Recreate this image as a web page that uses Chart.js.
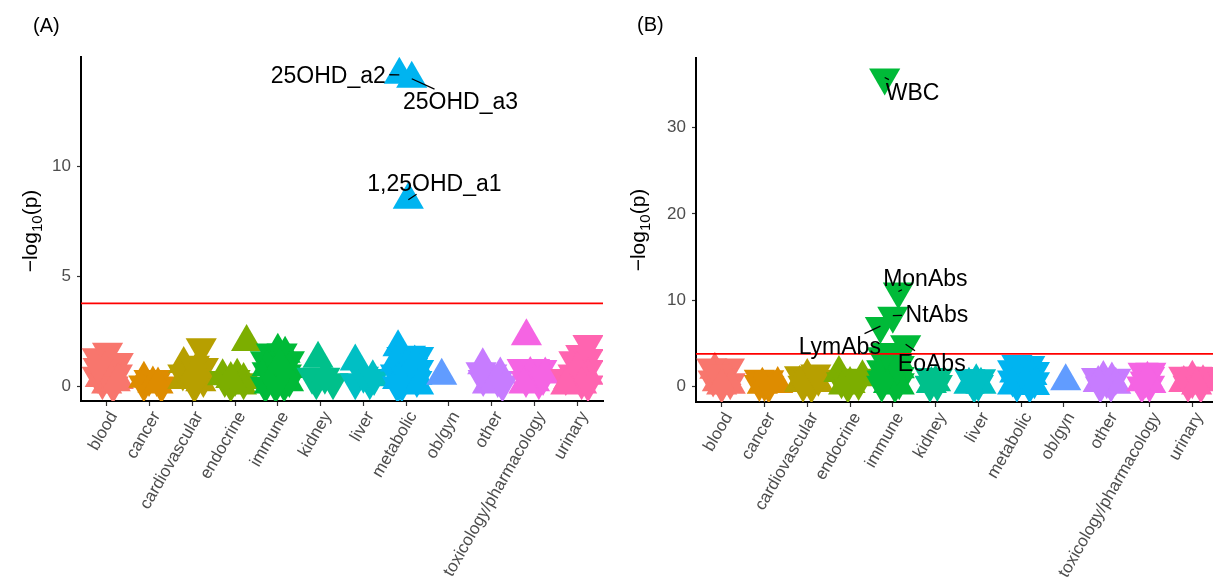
<!DOCTYPE html>
<html><head><meta charset="utf-8">
<script src="https://cdn.jsdelivr.net/npm/chart.js@4.4.1/dist/chart.umd.min.js"></script>
<style>
html,body{margin:0;padding:0;background:#fff;overflow:hidden;}
#wrap{position:relative;width:1213px;height:581px;overflow:hidden;background:#fff;}
canvas{position:absolute;top:0;}
</style></head><body>
<div id="wrap">
<canvas id="cA" width="606" height="581" style="left:0px"></canvas>
<canvas id="cB" width="613" height="581" style="left:606px"></canvas>
</div>
<script>
// ---------- DATA ----------
const categories = ['blood','cancer','cardiovascular','endocrine','immune','kidney','liver','metabolic','ob/gyn','other','toxicology/pharmacology','urinary'];
const A_yTicks = [0, 5, 10];
const B_yTicks = [0, 10, 20, 30];
const A_threshold = 3.79;
const B_threshold = 3.77;

// each point: [position within category, -log10(p), effect direction (+1 up / -1 down), optional name]
const A_blood = [[-0.22,1.34,-1],[0.02,1.59,-1],[0.27,1.12,-1],[-0.22,0.5,-1],[-0.1,0.2,-1],[0.0,0.1,1],[0.1,0.3,-1],[0.25,0.6,-1],[-0.15,0.4,1],[0.2,0.2,1],[0.05,0.9,-1],[-0.05,0.8,1],[0.15,0.05,-1],[-0.2,0.9,-1],[0.27,0.3,1]];
const A_cancer = [[-0.13,0.36,1],[-0.01,0.35,-1],[0.17,0.35,-1],[-0.13,0.1,-1],[0.28,0.05,-1],[0.08,0.15,1],[0.2,0.1,1]];
const A_cardiovascular = [[-0.2,1.03,1],[0.21,1.79,-1],[0.26,0.9,-1],[0.26,0.3,-1],[-0.22,0.3,1],[-0.22,0.6,-1],[0.0,0.5,1],[0.05,1.0,-1],[0.15,0.6,-1],[0.2,0.2,1],[0.05,0.05,-1],[0.1,0.8,1]];
const A_endocrine = [[0.27,2.03,1],[-0.29,0.47,1],[0.05,0.5,1],[-0.24,0.3,-1],[0.0,0.35,-1],[0.2,0.2,-1],[0.2,0.3,1],[-0.1,0.1,-1],[0.15,0.05,1],[-0.1,0.35,1]];
const A_immune = [[0.0,1.64,1],[0.17,1.5,1],[-0.15,1.55,-1],[0.1,1.55,-1],[-0.29,1.2,-1],[0.27,1.2,-1],[-0.25,0.9,1],[0.27,0.8,1],[-0.25,0.7,-1],[0.2,0.6,-1],[-0.1,0.6,1],[0.1,0.3,1],[0.0,0.9,-1],[-0.1,0.3,-1],[0.15,0.1,-1],[-0.2,0.1,1],[0.25,0.2,1],[-0.29,0.05,-1],[0.27,0.3,-1],[0.05,1.0,1],[-0.05,0.05,-1]];
const A_kidney = [[-0.06,1.27,1],[-0.1,0.2,-1],[0.29,0.2,-1],[0.1,0.45,-1],[-0.2,0.45,-1],[0.12,0.5,1]];
const A_liver = [[-0.19,1.15,1],[0.22,0.43,1],[-0.19,0.2,-1],[0.15,0.2,-1],[0.0,0.5,-1],[0.25,0.4,-1]];
const A_metabolic = [[-0.19,1.79,1],[-0.1,1.4,-1],[0.1,1.45,-1],[0.29,1.4,-1],[0.29,0.8,-1],[0.25,0.3,-1],[0.25,0.5,1],[-0.25,1.1,1],[-0.25,0.6,-1],[-0.2,0.3,1],[-0.1,0.1,-1],[0.0,0.9,1],[0.0,0.5,-1],[0.1,0.2,1],[0.15,0.9,-1],[0.2,1.1,1],[-0.2,0.05,-1],[0.29,0.05,1],[-0.16,14.18,1,'25OHD_a2'],[0.13,14.0,1,'25OHD_a3'],[0.05,8.5,1,'1,25OHD_a1']];
const A_obgyn = [[-0.17,0.5,1]];
const A_other = [[-0.21,0.97,1],[0.2,0.55,1],[0.14,0.3,-1],[-0.2,0.35,-1],[0.0,0.3,1],[0.0,0.6,-1],[-0.1,0.1,1],[0.25,0.1,-1],[-0.25,0.7,-1]];
const A_toxicology = [[-0.19,2.29,1],[-0.29,0.85,-1],[0.0,0.85,-1],[0.17,0.8,-1],[-0.1,0.58,1],[0.25,0.55,1],[-0.2,0.3,-1],[0.1,0.2,-1],[0.0,0.2,1],[0.2,0.4,-1],[-0.25,0.1,1]];
const A_urinary = [[0.25,1.94,-1],[0.08,1.49,-1],[-0.08,1.2,-1],[0.25,1.3,-1],[0.25,0.8,-1],[0.25,0.5,1],[-0.27,0.4,-1],[-0.2,0.3,1],[-0.1,0.6,-1],[0.1,0.2,-1],[0.0,0.8,1],[0.1,0.1,1],[0.25,0.1,-1],[-0.27,0.05,1]];

const B_blood = [[-0.16,1.95,1],[-0.23,2.2,-1],[0.18,2.2,-1],[0.0,1.0,-1],[0.1,1.2,1],[-0.2,0.8,-1],[0.2,0.5,-1],[-0.1,0.5,1],[0.0,0.1,-1],[0.2,0.2,1],[-0.1,1.5,-1],[0.0,0.1,1]];
const B_cancer = [[-0.12,0.9,-1],[0.1,0.85,-1],[0.31,0.3,1],[0.0,0.3,-1],[-0.12,0.3,-1],[-0.05,0.2,1],[0.1,0.1,-1]];
const B_cardiovascular = [[0.0,1.2,1],[-0.18,1.3,-1],[0.2,1.5,-1],[0.05,0.8,-1],[-0.18,0.4,1],[0.26,0.4,1],[-0.1,0.2,-1],[0.1,0.1,-1],[0.26,0.9,-1]];
const B_endocrine = [[-0.26,1.56,1],[0.29,1.07,1],[0.0,0.9,-1],[-0.2,0.6,-1],[0.2,0.4,-1],[0.0,0.3,1],[-0.05,0.1,-1],[-0.15,0.1,1],[0.15,1.0,-1]];
const B_immune = [[-0.19,35.8,-1,'WBC'],[0.13,11.0,-1,'MonAbs'],[0.0,8.2,-1,'NtAbs'],[-0.29,7.0,-1,'LymAbs'],[0.3,4.9,-1,'EoAbs'],[-0.25,3.5,-1],[0.1,3.8,-1],[0.0,3.0,-1],[0.15,2.5,-1],[-0.26,2.0,-1],[-0.2,2.5,1],[0.15,2.0,1],[-0.1,1.5,-1],[0.15,1.2,-1],[0.0,1.0,1],[-0.25,0.8,-1],[0.15,0.5,-1],[-0.1,0.3,1],[0.05,0.1,-1],[0.15,0.1,1],[-0.26,0.2,-1],[0.1,2.2,-1],[0.1,3.2,1],[-0.15,4.0,-1]];
const B_kidney = [[-0.13,1.1,-1],[0.04,1.0,-1],[0.0,0.5,1],[-0.1,0.3,1],[0.04,0.3,-1],[-0.13,0.2,-1]];
const B_liver = [[-0.2,0.95,-1],[0.05,0.95,-1],[-0.05,0.6,1],[0.0,0.3,-1],[-0.22,0.2,1],[0.06,0.2,1],[-0.1,0.1,-1]];
const B_metabolic = [[-0.1,2.6,-1],[0.2,2.5,-1],[0.05,1.6,1],[-0.2,2.0,-1],[0.31,1.8,-1],[-0.15,1.5,1],[0.25,1.2,1],[0.0,1.3,-1],[-0.2,0.8,-1],[0.31,0.6,-1],[0.1,0.5,1],[-0.1,0.2,-1],[-0.2,0.1,1],[0.2,0.1,-1],[0.31,0.05,1]];
const B_obgyn = [[0.04,0.6,1]];
const B_other = [[-0.08,0.98,1],[-0.24,1.1,-1],[0.21,1.0,-1],[0.12,0.8,1],[0.0,0.6,-1],[-0.2,0.4,1],[0.1,0.2,-1],[0.21,0.2,1],[-0.15,0.1,-1]];
const B_toxicology = [[-0.15,1.7,-1],[0.03,1.7,-1],[0.0,1.2,-1],[-0.18,0.5,1],[-0.1,0.7,-1],[0.03,0.3,1],[0.0,0.2,-1],[-0.05,0.9,1],[-0.18,0.1,-1]];
const B_urinary = [[-0.2,1.25,-1],[0.1,1.25,-1],[0.3,1.2,-1],[0.0,1.0,1],[0.0,0.6,-1],[-0.2,0.4,1],[0.25,0.5,1],[-0.1,0.2,-1],[0.2,0.1,-1],[0.1,0.1,1]];

// text labels (name, label position in data units)
const A_labelNames = ['25OHD_a2','25OHD_a3','1,25OHD_a1'];
const A_labelX = [6.18, 9.27, 8.66];
const A_labelY = [14.2, 13.0, 9.28];
const B_labelNames = ['WBC','MonAbs','NtAbs','LymAbs','EoAbs'];
const B_labelX = [5.46, 5.76, 6.03, 3.76, 5.91];
const B_labelY = [34.2, 12.57, 8.4, 4.77, 2.78];

// ---------- STYLE ----------
const palette = ['#F8766D','#DE8C00','#B79F00','#7CAE00','#00BA38','#00C08B','#00BFC4','#00B4F0','#619CFF','#C77CFF','#F564E3','#FF64B0'];
const FONT = '"Liberation Sans", Arial, Helvetica, sans-serif';
Chart.defaults.font.family = FONT;

const A_points = [A_blood,A_cancer,A_cardiovascular,A_endocrine,A_immune,A_kidney,A_liver,A_metabolic,A_obgyn,A_other,A_toxicology,A_urinary];
const B_points = [B_blood,B_cancer,B_cardiovascular,B_endocrine,B_immune,B_kidney,B_liver,B_metabolic,B_obgyn,B_other,B_toxicology,B_urinary];

const overlay = {
  id: 'overlay',
  afterDatasetsDraw(chart, args, o) {
    const {ctx, chartArea: a, scales: {x, y}} = chart;
    ctx.save();
    ctx.beginPath(); ctx.rect(a.left, a.top, a.right - a.left, a.bottom - a.top); ctx.clip();
    const ty = y.getPixelForValue(o.threshold);
    ctx.strokeStyle = '#FF0000'; ctx.lineWidth = 1.8;
    ctx.beginPath(); ctx.moveTo(a.left, ty); ctx.lineTo(a.right, ty); ctx.stroke();
    ctx.restore();

    ctx.save();
    const fs = 23, cap = fs * 0.716, pad = 3.5;
    ctx.font = fs + 'px ' + FONT;
    ctx.fillStyle = '#000'; ctx.strokeStyle = '#000'; ctx.lineWidth = 1.3;
    ctx.textAlign = 'center'; ctx.textBaseline = 'alphabetic';
    o.labelNames.forEach((name, k) => {
      let pt = null;
      chart.data.datasets.forEach(ds => ds.data.forEach(d => { if (d.name === name) pt = d; }));
      if (!pt) return;
      const px = x.getPixelForValue(pt.x), py = y.getPixelForValue(pt.y);
      const lx = x.getPixelForValue(o.labelX[k]), ly = y.getPixelForValue(o.labelY[k]);
      const w = ctx.measureText(name).width;
      const bx0 = lx - w/2 - pad, bx1 = lx + w/2 + pad, by0 = ly - cap/2 - pad, by1 = ly + cap/2 + pad;
      const inside = px >= bx0 && px <= bx1 && py >= by0 && py <= by1;
      if (!inside) {
        const dx = lx - px, dy = ly - py, ts = [];
        if (dx !== 0) [bx0, bx1].forEach(bx => { const t = (bx - px)/dx, yy = py + t*dy; if (t > 0 && t <= 1 && yy >= by0 && yy <= by1) ts.push(t); });
        if (dy !== 0) [by0, by1].forEach(by => { const t = (by - py)/dy, xx = px + t*dx; if (t > 0 && t <= 1 && xx >= bx0 && xx <= bx1) ts.push(t); });
        if (ts.length) {
          const t = Math.min(...ts), ex = px + t*dx, ey = py + t*dy;
          if (Math.hypot(ex - px, ey - py) > 3) {
            ctx.beginPath(); ctx.moveTo(px, py); ctx.lineTo(ex, ey); ctx.stroke();
          }
        }
      }
      ctx.fillText(name, lx, ly + cap/2);
    });
    ctx.restore();
  },
  afterDraw(chart, args, o) {
    const ctx = chart.ctx;
    ctx.save();
    ctx.fillStyle = '#000';
    ctx.font = '20px ' + FONT; ctx.textAlign = 'left'; ctx.textBaseline = 'alphabetic';
    ctx.fillText(o.tag, o.tagX, o.tagY);
    ctx.translate(o.titleX, o.titleY); ctx.rotate(-Math.PI/2);
    const f1 = '21px ' + FONT, f2 = '15px ' + FONT;
    ctx.font = f1; const wa = ctx.measureText('\u2212log').width, wc = ctx.measureText('(p)').width;
    ctx.font = f2; const wb = ctx.measureText('10').width;
    let sx = -(wa + wb + wc) / 2;
    ctx.font = f1; ctx.fillText('\u2212log', sx, 0); sx += wa;
    ctx.font = f2; ctx.fillText('10', sx, 5); sx += wb;
    ctx.font = f1; ctx.fillText('(p)', sx, 0);
    ctx.restore();
  }
};

function buildPanel(id, pts, yMin, yMax, yTicks, threshold, names, lxs, lys, L) {
  const datasets = categories.map((c, i) => ({
    label: c,
    data: pts[i].map(p => ({x: i + 1 + p[0], y: p[1], dir: p[2], name: p[3]})),
    pointStyle: 'triangle',
    pointRadius: 18,
    pointHoverRadius: 18,
    pointBorderWidth: 0,
    pointBackgroundColor: palette[i],
    pointBorderColor: palette[i],
    pointRotation: ctx => (ctx.raw && ctx.raw.dir < 0) ? 180 : 0,
    showLine: false,
    order: -i
  }));
  return new Chart(document.getElementById(id), {
    type: 'scatter',
    data: {datasets},
    plugins: [overlay],
    options: {
      responsive: false, animation: false, events: [],
      layout: {autoPadding: false, padding: {top: L.top, right: L.right, left: 0, bottom: 0}},
      plugins: {
        legend: {display: false}, tooltip: {enabled: false},
        overlay: {threshold, labelNames: names, labelX: lxs, labelY: lys, tag: L.tag, tagX: L.tagX, tagY: L.tagY, titleX: L.titleX, titleY: L.titleY}
      },
      scales: {
        x: {
          type: 'linear', min: 0.4, max: 12.6,
          afterBuildTicks: s => { s.ticks = categories.map((c, i) => ({value: i + 1})); },
          ticks: {color: '#4D4D4D', font: {size: 17}, padding: 2, labelOffset: 7, autoSkip: false, minRotation: 60, maxRotation: 60,
                  callback: v => categories[Math.round(v) - 1]},
          grid: {drawOnChartArea: false, drawTicks: true, tickLength: 5, tickColor: '#333333', tickWidth: 1.2},
          border: {display: true, color: '#000000', width: 2},
          afterFit: s => { s.height = L.xh; s.paddingLeft = 0; s.paddingRight = 0; }
        },
        y: {
          type: 'linear', min: yMin, max: yMax,
          afterBuildTicks: s => { s.ticks = yTicks.map(v => ({value: v})); },
          ticks: {color: '#4D4D4D', font: {size: 17}, padding: 6},
          grid: {drawOnChartArea: false, drawTicks: true, tickLength: 4, tickColor: '#333333', tickWidth: 1.2},
          border: {display: true, color: '#000000', width: 2},
          afterFit: s => { s.width = L.yw; s.paddingTop = 0; s.paddingBottom = 0; }
        }
      }
    }
  });
}

buildPanel('cA', A_points, -0.65, 14.99, A_yTicks, A_threshold, A_labelNames, A_labelX, A_labelY,
  {top: 57, right: 3, xh: 180, yw: 81, tag: '(A)', tagX: 33, tagY: 32, titleX: 36.5, titleY: 231});
buildPanel('cB', B_points, -1.80, 38.06, B_yTicks, B_threshold, B_labelNames, B_labelX, B_labelY,
  {top: 58, right: 1, xh: 179, yw: 90, tag: '(B)', tagX: 31, tagY: 31, titleX: 38.6, titleY: 230});
</script>
</body></html>
